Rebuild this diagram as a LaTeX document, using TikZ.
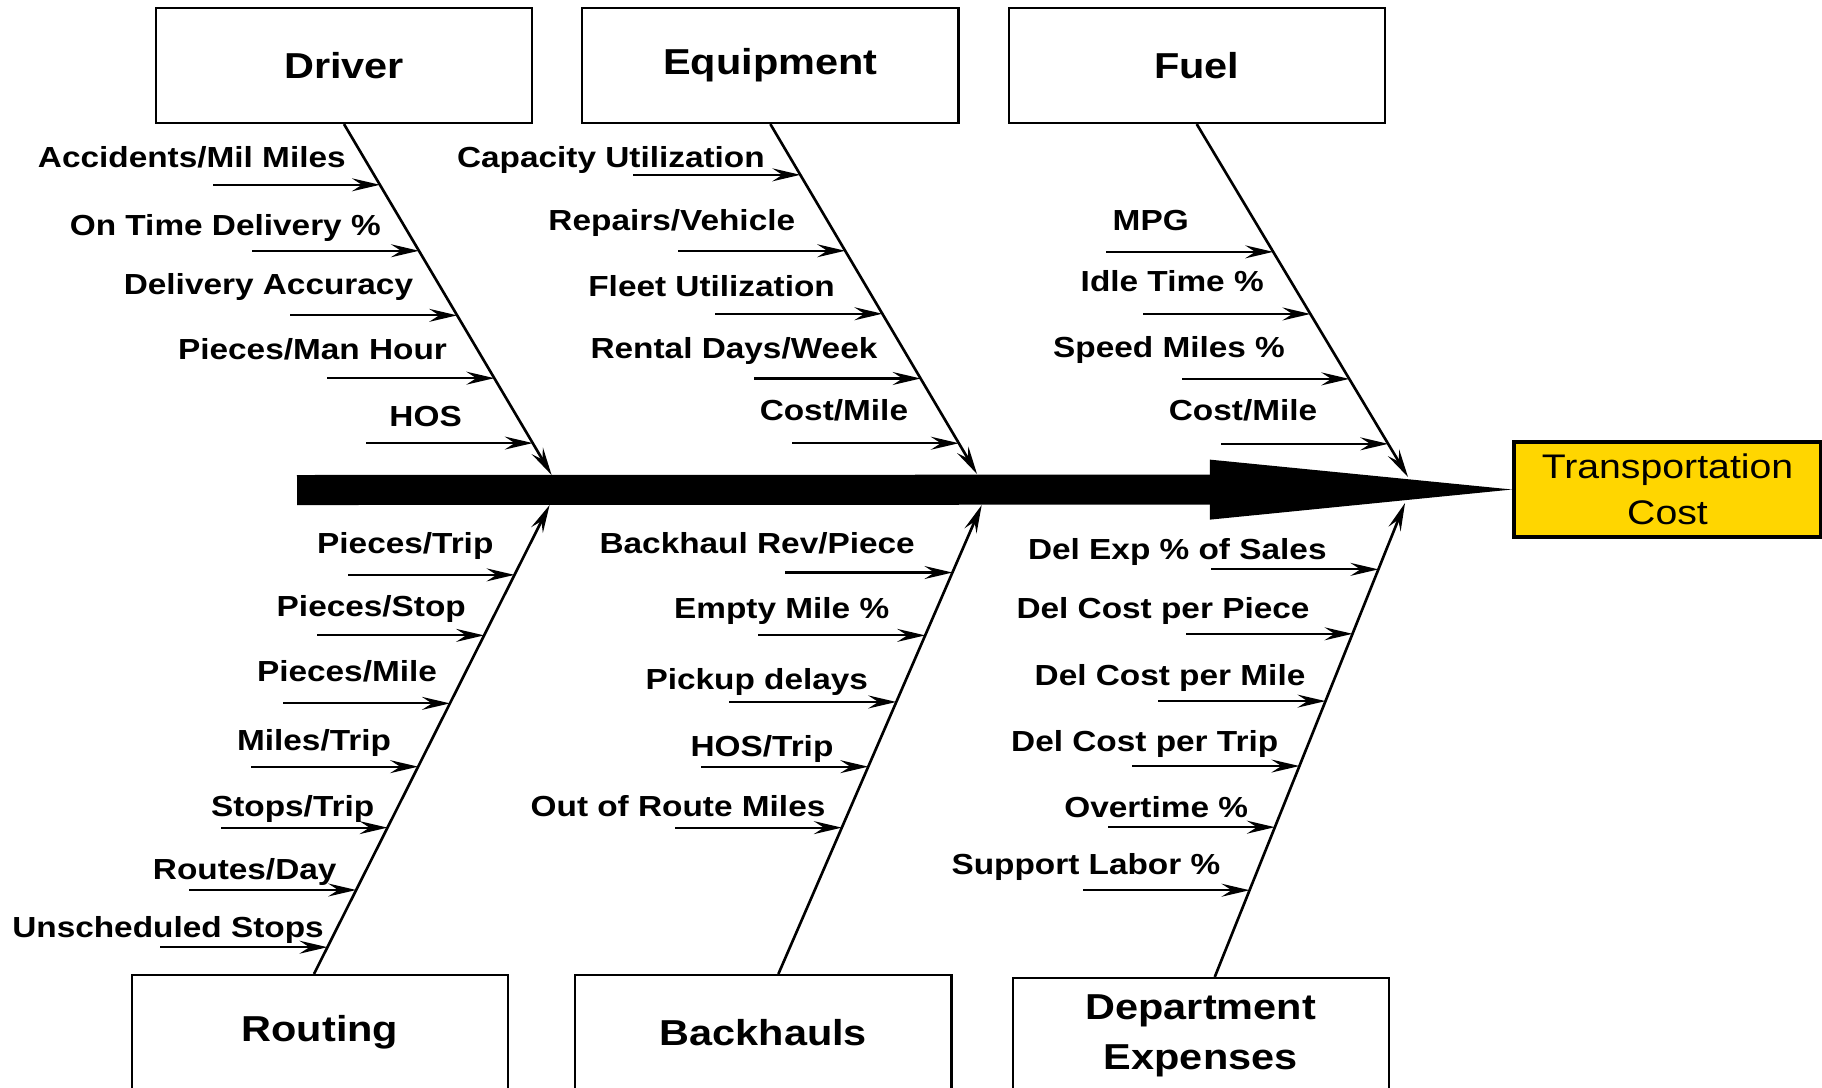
\documentclass[tikz,border=0pt]{standalone}
\usepackage{fontspec}
\setmainfont{Liberation Sans}[FakeStretch=1.15]
\usetikzlibrary{positioning,arrows.meta,calc}
\definecolor{CostGold}{RGB}{255,214,0}

\begin{document}
\begin{tikzpicture}[x=0.01cm, y=-0.01cm,
    cat/.style={rectangle, draw, line width=0.6pt, minimum width=3.76cm, minimum height=1.15cm,
        inner sep=0pt, font=\bfseries\fontsize{10.25}{14.2}\selectfont, align=center},
    effect/.style={rectangle, draw, line width=1.1pt, fill=CostGold, minimum width=3.07cm,
        minimum height=0.95cm, inner sep=0pt, font=\fontsize{9.7}{13}\selectfont, align=center},
    cause/.style={anchor=base, inner sep=0pt, font=\bfseries\fontsize{8.25}{10}\selectfont},
    bone/.style={line width=0.75pt, -{Stealth[length=2.8mm, width=1.3mm, inset=1mm]}},
    twig/.style={line width=0.6pt, {Stealth[length=2.8mm, width=1.3mm, inset=1mm]}-},
    spine/.style={line width=0.3cm, -{Triangle[length=3.02cm, width=0.6cm, line width=0pt]}}
]
\useasboundingbox (0,0) rectangle (1822,1087);
\clip (0,0) rectangle (1822,1087);

\node[cat] (drv) at (344,65.5) {Driver};
\node[cat, right=0.48cm of drv] (eqp) {Equipment};
\node[cat, right=0.48cm of eqp] (fuel) {Fuel};
\node[cat] (rte) at (320,1032.5) {Routing};
\node[cat, right=0.65cm of rte] (bkh) {Backhauls};
\node[cat, right=0.59cm of bkh, yshift=-0.03cm] (dept) {Department\\Expenses};
\node[effect] (cost) at (1667.5,489.5) {Transportation\\Cost};

\coordinate (tail) at (297,490);
\draw[spine] (tail) -- (cost.west);

\coordinate (drvTip) at (551.6,475);
\coordinate (eqpTip) at (977,474);
\coordinate (fuelTip) at (1408,477);
\coordinate (rteTip) at (549.6,505);
\coordinate (bkhTip) at (981.7,505);
\coordinate (deptTip) at (1405,503);

\draw[bone] (drv.south) -- (drvTip);
\draw[bone] (eqp.south) -- (eqpTip);
\draw[bone] (fuel.south) -- (fuelTip);
\draw[bone] ([xshift=-0.06cm]rte.north) -- (rteTip);
\draw[bone] ([xshift=0.15cm]bkh.north) -- (bkhTip);
\draw[bone] ([xshift=0.14cm]dept.north) -- (deptTip);

\foreach \t in {0.173,0.361,0.545,0.724,0.909}
    \draw[twig] ($(drv.south)!\t!(drvTip)$) -- ++(-167,0);
\foreach \t in {0.145,0.362,0.542,0.727,0.912}
    \draw[twig] ($(eqp.south)!\t!(eqpTip)$) -- ++(-167,0);
\foreach \t in {0.362,0.538,0.722,0.906}
    \draw[twig] ($(fuel.south)!\t!(fuelTip)$) -- ++(-167,0);
\foreach \t in {0.851,0.722,0.577,0.442,0.312,0.179,0.057}
    \draw[twig] ($([xshift=-0.06cm]rte.north)!\t!(rteTip)$) -- ++(-167,0);
\foreach \t in {0.856,0.722,0.58,0.442,0.312}
    \draw[twig] ($([xshift=0.15cm]bkh.north)!\t!(bkhTip)$) -- ++(-167,0);
\foreach \t in {0.86,0.724,0.582,0.445,0.316,0.183}
    \draw[twig] ($([xshift=0.14cm]dept.north)!\t!(deptTip)$) -- ++(-167,0);

\foreach \x/\y/\txt [count=\i] in {191.8/167/{Accidents/Mil Miles}, 225.3/235/{On Time Delivery \%},
    268.5/294/{Delivery Accuracy}, 312.5/359/{Pieces/Man Hour}, 425.6/426/{HOS}}
    \node[cause] (drv\i) at (\x,\y) {\txt};
\foreach \x/\y/\txt [count=\i] in {610.9/167/{Capacity Utilization}, 671.8/230/{Repairs/Vehicle},
    711.6/296/{Fleet Utilization}, 734/358.3/{Rental Days/Week}, 833.9/420.7/{Cost/Mile}}
    \node[cause] (eqp\i) at (\x,\y) {\txt};
\foreach \x/\y/\txt [count=\i] in {1150.7/230/{MPG}, 1172.2/291/{Idle Time \%},
    1169/357/{Speed Miles \%}, 1243/420.7/{Cost/Mile}}
    \node[cause] (fuel\i) at (\x,\y) {\txt};
\foreach \x/\y/\txt [count=\i] in {405.3/553.6/{Pieces/Trip}, 371.3/616.3/{Pieces/Stop},
    347/681.3/{Pieces/Mile}, 314/750/{Miles/Trip}, 292.6/816/{Stops/Trip},
    244.7/879.5/{Routes/Day}, 168/937.6/{Unscheduled Stops}}
    \node[cause] (rte\i) at (\x,\y) {\txt};
\foreach \x/\y/\txt [count=\i] in {757.2/553.6/{Backhaul Rev/Piece}, 781.7/618.6/{Empty Mile \%},
    756.8/689/{Pickup delays}, 762/756.8/{HOS/Trip}, 678/816.8/{Out of Route Miles}}
    \node[cause] (bkh\i) at (\x,\y) {\txt};
\foreach \x/\y/\txt [count=\i] in {1177.3/559.4/{Del Exp \% of Sales}, 1163/618.6/{Del Cost per Piece},
    1170/685.2/{Del Cost per Mile}, 1144.7/751/{Del Cost per Trip},
    1156.2/817.6/{Overtime \%}, 1085.9/874/{Support Labor \%}}
    \node[cause] (dept\i) at (\x,\y) {\txt};
\end{tikzpicture}
\end{document}
